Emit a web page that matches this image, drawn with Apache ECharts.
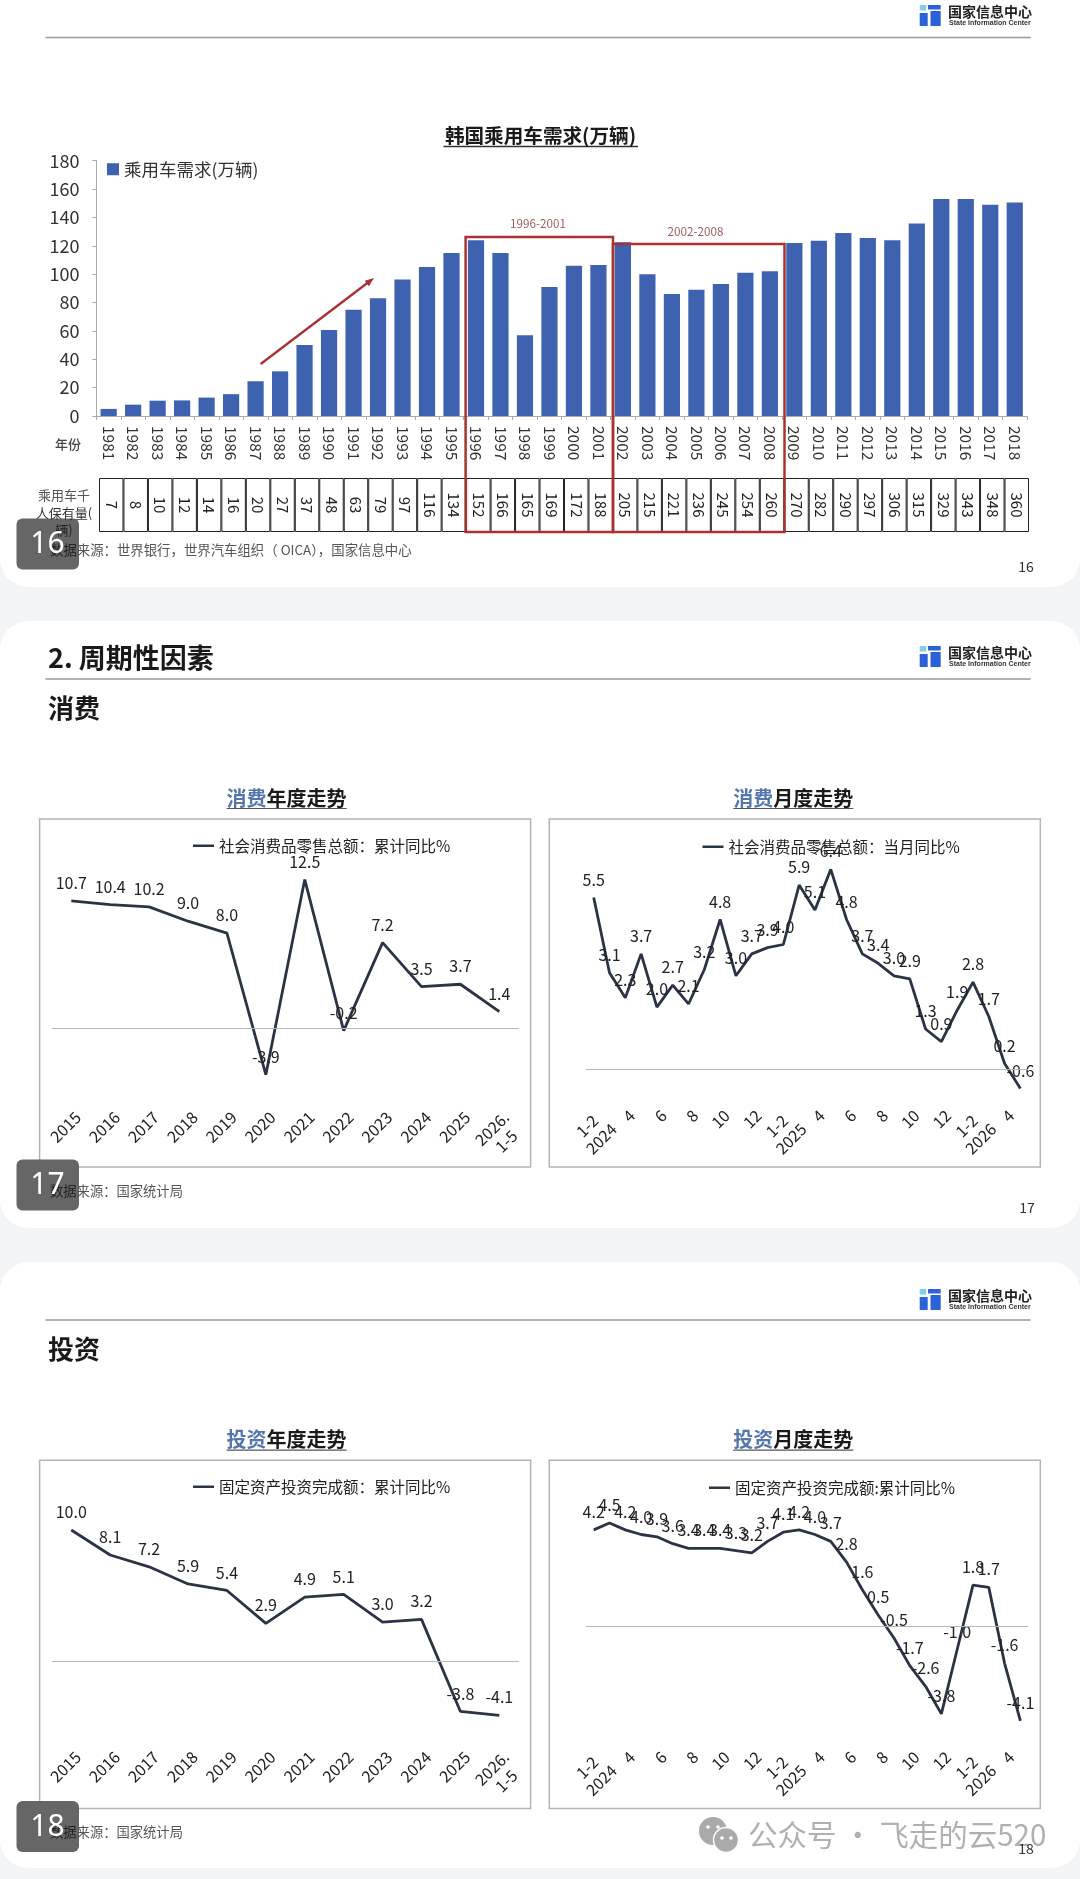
<!DOCTYPE html>
<html><head><meta charset="utf-8">
<style>html,body{margin:0;padding:0;background:#f3f4f6}#c{width:1080px;height:1879px}</style>
<script src="https://cdn.jsdelivr.net/npm/echarts@6/dist/echarts.min.js"></script>
</head><body><div id="c"></div>
<script>
const barYears=['1981','1982','1983','1984','1985','1986','1987','1988','1989','1990','1991','1992','1993','1994','1995','1996','1997','1998','1999','2000','2001','2002','2003','2004','2005','2006','2007','2008','2009','2010','2011','2012','2013','2014','2015','2016','2017','2018'];
const barDemand=[5,8,10.8,11,13,15.4,24.5,31.5,50,60.7,75,83,96.3,105,115,124,115,57,91,106,106.5,122.5,100,86,89,93,101,102,122,123.6,129,125.5,124,135.7,153,153,149,150.5];
const ownership=[7,8,10,12,14,16,20,27,37,48,63,79,97,116,134,152,166,165,169,172,188,205,215,221,236,245,254,260,270,282,290,297,306,315,329,343,348,360];
const yearCats=['2015','2016','2017','2018','2019','2020','2021','2022','2023','2024','2025','2026.\n1-5'];
const monthTicks=['1-2\n2024','','4','','6','','8','','10','','12','','1-2\n2025','','4','','6','','8','','10','','12','','1-2\n2026','','4',''];
const retailYear=[10.7,10.4,10.2,9.0,8.0,-3.9,12.5,-0.2,7.2,3.5,3.7,1.4];
const retailMonth=[5.5,3.1,2.3,3.7,2.0,2.7,2.1,3.2,4.8,3.0,3.7,3.9,4.0,5.9,5.1,6.4,4.8,3.7,3.4,3.0,2.9,1.3,0.9,1.9,2.8,1.7,0.2,-0.6];
const investYear=[10.0,8.1,7.2,5.9,5.4,2.9,4.9,5.1,3.0,3.2,-3.8,-4.1];
const investMonth=[4.2,4.5,4.2,4.0,3.9,3.6,3.4,3.4,3.4,3.3,3.2,3.7,4.1,4.2,4.0,3.7,2.8,1.6,0.5,-0.5,-1.7,-2.6,-3.8,-1.0,1.8,1.7,-1.6,-4.1];

const FF='"Noto Sans CJK SC","Noto Sans",sans-serif';
const INK='#2a3446', RED='#a93333', BLUE='#3f62b0';
const g=[], grids=[], xAxes=[], yAxes=[], series=[], legends=[];
function txt(x,y,text,size,color,opt){g.push({type:'text',x,y,z:(opt&&opt.z)||5,style:Object.assign({text,fontSize:size,fill:color,fontFamily:FF,textAlign:'left',textVerticalAlign:'middle'},opt||{})});}
function line(x1,y1,x2,y2,color,w,z){g.push({type:'line',z:z||1,shape:{x1,y1,x2,y2},style:{stroke:color,lineWidth:w}});}
function rect(x,y,w,h,style,r,z){g.push({type:'rect',z:z==null?1:z,shape:{x,y,width:w,height:h,r:r||0},style});}

// cards
rect(0,-60,1080,647,{fill:'#fff'},28,-20);
rect(0,621,1080,607,{fill:'#fff'},28,-20);
rect(0,1262,1080,606,{fill:'#fff'},28,-20);

function logo(dy){
  rect(919.7,dy+5,6.5,5.5,{fill:'#7fd0e8'},0,2);
  rect(928,dy+5,12.7,4.5,{fill:'#2c62d8'},0,2);
  rect(919.7,dy+13,8,13,{fill:'#2c62d8'},0,2);
  rect(930.5,dy+11,10.2,15,{fill:'#2c62d8'},0,2);
  txt(948,dy+11.5,'国家信息中心',14,'#222',{fontWeight:'bold'});
  txt(949,dy+23,'State Information Center',7,'#333',{fontWeight:'bold',fontFamily:'"Liberation Sans",sans-serif'});
}
logo(0);logo(641);logo(1284);
line(45.5,37.5,1030.7,37.5,'#9a9a9a',1.5);
line(45.5,679,1030.7,679,'#9a9a9a',1.5);
line(45.5,1320,1030.7,1320,'#9a9a9a',1.5);

function badge(y,label){
  rect(16.5,y,62.5,51,{fill:'#666'},6,50);
  txt(47.5,y+26,label,30,'#fff',{textAlign:'center',z:53,fontFamily:'"Noto Sans",sans-serif'});
}
function source(y,first,rest,size){
  g.push({type:'text',z:51,x:50,y,style:{text:'{d|'+first+'}{n|'+rest+'}',textAlign:'left',textVerticalAlign:'middle',
    rich:{d:{fontSize:size,fill:'#222',fontFamily:FF},n:{fontSize:size,fill:'#555',fontFamily:FF}}}});
}
source(550,'数据','来源：世界银行，世界汽车组织（ OICA），国家信息中心',13.4);
source(1191,'数据','来源：国家统计局',13.3);
source(1832,'数据','来源：国家统计局',13.3);
badge(518.5,'16');badge(1159.5,'17');badge(1801,'18');
txt(1026,567,'16',14,'#333',{textAlign:'center'});
txt(1027,1207.5,'17',14,'#333',{textAlign:'center'});
txt(1026,1849,'18',14,'#333',{textAlign:'center',z:12});

// section headings
txt(48,657.5,'2. 周期性因素',27,'#1a1a1a',{fontWeight:'bold'});
txt(48,708,'消费',26,'#1a1a1a',{fontWeight:'bold'});
txt(48,1349.5,'投资',26,'#1a1a1a',{fontWeight:'bold'});

// bar chart title
txt(540.5,136,'韩国乘用车需求(万辆)',19.6,'#1a1a1a',{fontWeight:'bold',textAlign:'center'});
line(443.5,146.5,638,146.5,'#333',1.3);
txt(55,444,'年份',13,'#444',{fontWeight:'500'});
txt(64,495,'乘用车千',13,'#555',{textAlign:'center',z:51});
txt(64,513,'人保有量(',13,'#333',{textAlign:'center',z:51});
txt(64,530.5,'辆)',13,'#222',{textAlign:'center',z:51});

// annotation boxes
const box={fill:'none',stroke:RED,lineWidth:2.5};
rect(465.6,237,147.4,295,box,0,30);
rect(613,244,171.5,288,box,0,30);
txt(538,224,'1996-2001',11.7,'#a06060',{textAlign:'center'});
txt(695.5,232,'2002-2008',11.7,'#a06060',{textAlign:'center'});
line(260.7,364,370,281,RED,2.4,30);
g.push({type:'polygon',z:30,shape:{points:[[374,278],[368.9,286.3],[364.7,280.7]]},style:{fill:RED}});

// bar chart
grids.push({left:96.4,top:160.7,width:930.6,height:255.3});
xAxes.push({type:'category',gridIndex:0,data:barYears,axisLine:{lineStyle:{color:'#aaa'}},axisTick:{show:true,length:4,lineStyle:{color:'#aaa'}},axisLabel:{interval:0,rotate:-90,margin:10,fontSize:15.5,color:'#333',fontFamily:FF}});
yAxes.push({type:'value',gridIndex:0,min:0,max:180,interval:20,splitLine:{show:false},axisLine:{show:true,lineStyle:{color:'#aaa'}},axisTick:{show:true,length:4,lineStyle:{color:'#aaa'}},axisLabel:{margin:17,fontSize:18,color:'#333',fontFamily:FF}});
series.push({type:'bar',name:'乘用车需求(万辆)',xAxisIndex:0,yAxisIndex:0,data:barDemand,barWidth:16.2,itemStyle:{color:BLUE}});
legends.push({data:[{name:'乘用车需求(万辆)',icon:'rect'}],left:107,top:160.5,padding:0,itemWidth:12,itemHeight:12,textStyle:{fontSize:17.5,color:'#333',fontFamily:FF}});

// ownership table
grids.push({left:99,top:478,width:930,height:54});
xAxes.push({type:'category',gridIndex:1,data:ownership,show:false});
yAxes.push({type:'value',gridIndex:1,min:0,max:1,show:false});
series.push({type:'bar',name:'千人保有量',xAxisIndex:1,yAxisIndex:1,data:ownership.map(()=>1),barWidth:'100%',itemStyle:{color:'#fff',borderColor:'#222',borderWidth:1},
  label:{show:true,position:'inside',rotate:-90,fontSize:15,color:'#222',fontFamily:FF,formatter:'{b}'}});

// centre the shorter line of a two-line tick label
function tickText(v){const p=String(v).split('\n');if(p.length<2)return v;return p[0]+'\n'+p[1]+'  ';}
function tickTextMonth(v){const p=String(v).split('\n');if(p.length<2)return v;return p[0]+'  \n'+p[1];}

function panel(o){
  rect(o.bx,o.by,491,o.bh,{fill:'none',stroke:'#b4b4b4',lineWidth:1.5},0,1);
  const cx=o.bx+o.titleCx;
  g.push({type:'text',z:5,x:cx,y:o.ty,style:{text:'{a|'+o.head+'}{b|'+o.tail+'}',textAlign:'center',textVerticalAlign:'middle',rich:{a:{fontSize:20,fontWeight:'bold',fill:'#5476ad',fontFamily:FF},b:{fontSize:20,fontWeight:'bold',fill:'#1a1a1a',fontFamily:FF}}}});
  line(cx-60,o.ty+10.5,cx+60,o.ty+10.5,'#555',1.2);
  const i=grids.length;
  grids.push({left:o.left,top:o.top,width:o.width,height:o.height});
  xAxes.push({type:'category',gridIndex:i,data:o.cats,boundaryGap:true,axisLine:{show:false},axisTick:{show:false},
    axisLabel:{interval:0,rotate:45,align:'right',verticalAlign:'top',margin:o.margin,fontSize:16,lineHeight:19,color:'#222',fontFamily:FF,formatter:o.fmt}});
  yAxes.push({type:'value',gridIndex:i,min:o.min,max:o.max,show:false,splitLine:{show:false}});
  series.push({type:'line',name:o.name,xAxisIndex:i,yAxisIndex:i,data:o.data,symbol:'circle',symbolSize:0,showSymbol:true,lineStyle:{color:INK,width:2.8},itemStyle:{color:INK},
    label:{show:true,position:'top',distance:10,fontSize:16,color:'#222',fontFamily:FF,formatter:p=>p.value.toFixed(1)},
    markLine:{silent:true,symbol:'none',label:{show:false},lineStyle:{color:'#b8b8b8',width:1.2,type:'solid'},data:[{yAxis:0}]}});
  legends.push({data:[{name:o.name,icon:'rect'}],left:o.legendLeft,top:o.legendTop,padding:0,itemWidth:21,itemHeight:2.5,itemGap:0,textStyle:{fontSize:15.5,color:'#222',fontFamily:FF}});
}
panel({bx:39.6,by:819,bh:348,titleCx:247,ty:798,head:'消费',tail:'年度走势',name:'社会消费品零售总额：累计同比%',fmt:tickText,
  cats:yearCats,data:retailYear,left:51.8,width:467,top:861.7,height:238,min:-6,max:14,margin:8,legendLeft:193,legendTop:838});
panel({bx:549.3,by:819,bh:348,titleCx:244,ty:798,head:'消费',tail:'月度走势',name:'社会消费品零售总额：当月同比%',fmt:tickTextMonth,
  cats:monthTicks,data:retailMonth,left:585.8,width:442.5,top:819.3,height:281.7,min:-1,max:8,margin:5,legendLeft:702.5,legendTop:839});
panel({bx:39.6,by:1460.3,bh:348.3,titleCx:247,ty:1439.7,head:'投资',tail:'年度走势',name:'固定资产投资完成额：累计同比%',fmt:tickText,
  cats:yearCats,data:investYear,left:51.8,width:467,top:1503.7,height:236.7,min:-6,max:12,margin:7,legendLeft:193,legendTop:1479});
panel({bx:549.3,by:1460.3,bh:348.3,titleCx:244,ty:1439.7,head:'投资',tail:'月度走势',name:'固定资产投资完成额:累计同比%',fmt:tickTextMonth,
  cats:monthTicks,data:investMonth,left:585.8,width:442.5,top:1488.5,height:253,min:-5,max:6,margin:6,legendLeft:709,legendTop:1480});

// watermark
const W='#aaaaaa';
g.push({type:'circle',z:10,shape:{cx:713,cy:1831,r:14},style:{fill:W}});
g.push({type:'circle',z:11,shape:{cx:726,cy:1840,r:12.5},style:{fill:W,stroke:'#fff',lineWidth:1.5}});
[[708,1827],[718,1827],[722,1838],[731,1838]].forEach(p=>g.push({type:'circle',z:12,shape:{cx:p[0],cy:p[1],r:1.8},style:{fill:'#fff'}}));
txt(748,1835,'公众号 · 飞走的云520',29.5,'#b0b0b0',{z:10});

const chart=echarts.init(document.getElementById('c'),null,{renderer:'canvas'});
chart.setOption({animation:false,backgroundColor:'#f3f4f6',grid:grids,xAxis:xAxes,yAxis:yAxes,series,legend:legends,graphic:{elements:g}});
</script></body></html>
